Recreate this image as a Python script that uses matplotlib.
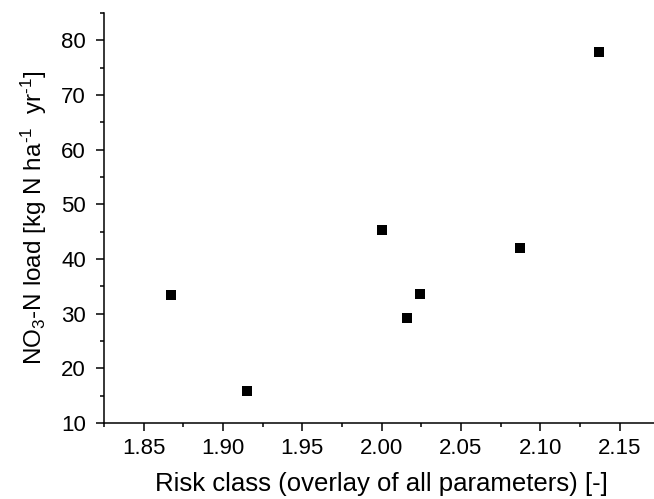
import matplotlib
matplotlib.use("Agg")
import matplotlib.pyplot as plt
from matplotlib.ticker import MultipleLocator

plt.rcParams['font.family'] = ['Liberation Sans', 'DejaVu Sans']
plt.rcParams['mathtext.fontset'] = 'custom'
plt.rcParams['mathtext.rm'] = 'Liberation Sans'
plt.rcParams['mathtext.it'] = 'Liberation Sans:italic'

# risk class vs nitrate load
risk_class = [1.867, 1.915, 2.000, 2.016, 2.024, 2.087, 2.137]
no3_load = [33.4, 15.9, 45.4, 29.2, 33.7, 42.1, 77.8]

fig = plt.figure(figsize=(6.54, 4.99), dpi=100)
ax = fig.add_axes([0.159, 0.152, 0.849, 0.822])

ax.scatter(risk_class, no3_load, marker='s', s=58, color='black', linewidths=0)

ax.set_xlim(1.825, 2.175)
ax.set_ylim(10, 85)
ax.xaxis.set_major_locator(MultipleLocator(0.05))
ax.xaxis.set_minor_locator(MultipleLocator(0.025))
ax.yaxis.set_major_locator(MultipleLocator(10))
ax.yaxis.set_minor_locator(MultipleLocator(5))
ax.xaxis.set_major_formatter(plt.FormatStrFormatter('%.2f'))

for s in ['top', 'right']:
    ax.spines[s].set_visible(False)
for s in ['left', 'bottom']:
    ax.spines[s].set_linewidth(1.1)

ax.tick_params(which='major', direction='out', length=6, width=1.1, labelsize=16)
ax.tick_params(axis='x', which='major', pad=5)
ax.tick_params(axis='y', which='major', pad=7)
ax.tick_params(which='minor', direction='out', length=3, width=1.1)

ax.set_xlabel('Risk class (overlay of all parameters) [-]', fontsize=18.5, labelpad=9)
ax.set_ylabel(r'NO$_\mathrm{3}$-N load [kg N ha$^{\text{-1}}$  yr$^{\text{-1}}$]',
              fontsize=17.5, labelpad=9)

fig.savefig('out.png', dpi=100)
